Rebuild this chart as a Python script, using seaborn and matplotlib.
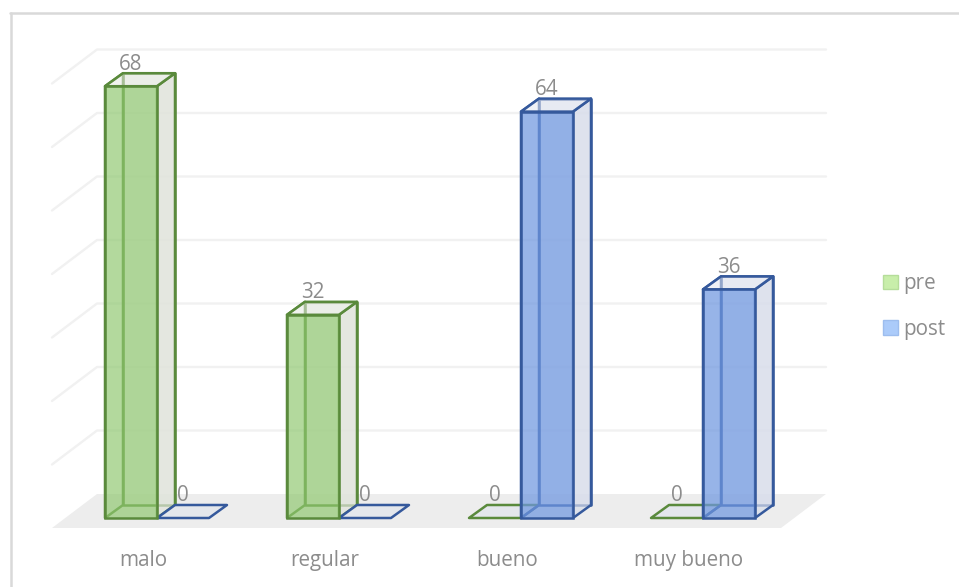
import matplotlib
matplotlib.use("Agg")
import matplotlib.pyplot as plt
import matplotlib.transforms as mtrans
from matplotlib.colors import to_rgba
from matplotlib.lines import Line2D
from matplotlib.patches import Patch, Polygon, Rectangle
import pandas as pd
import seaborn as sns

categorias = ["malo", "regular", "bueno", "muy bueno"]
pre = [68, 32, 0, 0]
post = [0, 0, 64, 36]
series = ["pre", "post"]
grid_values = [10, 20, 30, 40, 50, 60, 70]

W, H = 959, 587
PX_X0, PX_Y0 = 157.0, 518.0     # pixel of category 0 centre and of value 0
PX_PER_CAT, PX_PER_VAL = 182.0, 6.35
AX_L, AX_R, AX_T, AX_B = 52.0, 826.0, 50.0, 528.0

# depth of the box projection, in axis units
WALL_DX, WALL_DY = 45 / PX_PER_CAT, 34 / PX_PER_VAL
BOX_DX, BOX_DY = 18 / PX_PER_CAT, 13 / PX_PER_VAL
FLOOR_Y = (PX_Y0 - AX_B) / PX_PER_VAL

GREY = "#8c8c8c"
GRID = "#f1f1f1"
EDGE_W = 1.8
FONT = 14.9
STYLE = {
    "pre": dict(front=to_rgba("#8fc86f", 0.68), edge="#5a8a3c",
                side=to_rgba("#dfe3da", 0.7), top=to_rgba("#e7eae3", 0.55),
                swatch="#c8eeaa", swatch_edge="#b5dd9a"),
    "post": dict(front=to_rgba("#6f97e0", 0.72), edge="#35599c",
                 side=to_rgba("#d7dcea", 0.7), top=to_rgba("#e2e6f0", 0.55),
                 swatch="#abcbfa", swatch_edge="#9dbdee"),
}

sns.set_style("white")
plt.rcParams["font.family"] = ["Open Sans", "DejaVu Sans"]

fig = plt.figure(figsize=(W / 100, H / 100), dpi=100, facecolor="white")
ax = fig.add_axes([AX_L / W, 1 - AX_B / H, (AX_R - AX_L) / W, (AX_B - AX_T) / H])
ax.patch.set_alpha(0)
for spine in ax.spines.values():
    spine.set_visible(False)

df = pd.DataFrame({
    "categoria": categorias * 2,
    "serie": ["pre"] * len(pre) + ["post"] * len(post),
    "valor": pre + post,
})
sns.barplot(data=df, x="categoria", y="valor", hue="serie", hue_order=series,
            order=categorias, width=104 / PX_PER_CAT, gap=0, saturation=1,
            palette={s: STYLE[s]["front"][:3] for s in series},
            legend=False, ax=ax, zorder=5)

ax.set_xlim((AX_L - PX_X0) / PX_PER_CAT, (AX_R - PX_X0) / PX_PER_CAT)
ax.set_ylim(FLOOR_Y, (PX_Y0 - AX_T) / PX_PER_VAL)
ax.set_xlabel("")
ax.set_ylabel("")
ax.set_yticks([])

x0, x1 = ax.get_xlim()
back_y = FLOOR_Y + WALL_DY

# floor plane
ax.add_patch(Polygon([(x0, FLOOR_Y), (x0 + WALL_DX, back_y), (x1, back_y),
                      (x1 - WALL_DX, FLOOR_Y)], closed=True, fc="#ededed",
                     ec="none", zorder=1))
# back wall and left wall gridlines
for v in grid_values:
    ax.plot([x0, x0 + WALL_DX, x1], [FLOOR_Y + v, back_y + v, back_y + v],
            color=GRID, lw=1.7, zorder=1, clip_on=False, solid_joinstyle="round")

# each bar becomes a translucent box built from its own rectangle
for container, serie in zip(ax.containers, series):
    st = STYLE[serie]
    for bar in container:
        x, w, h = bar.get_x(), bar.get_width(), bar.get_height()
        line = dict(ec=st["edge"], lw=EDGE_W, joinstyle="round", clip_on=False)
        dx, dy = BOX_DX, BOX_DY
        if h > 0:
            ax.add_patch(Rectangle((x + dx, dy), w, h, fc=st["top"], zorder=3, **line))
            ax.add_patch(Polygon([(x + w, 0), (x + w + dx, dy), (x + w + dx, h + dy),
                                  (x + w, h)], closed=True, fc=st["side"], zorder=4, **line))
            ax.add_patch(Polygon([(x, 0), (x + dx, dy), (x + dx, h + dy), (x, h)],
                                 closed=True, fc="none", zorder=4, **line))
        # top lid; for a zero value this is the flat tile on the floor
        ax.add_patch(Polygon([(x, h), (x + dx, h + dy), (x + w + dx, h + dy), (x + w, h)],
                             closed=True, fc=st["top"] if h > 0 else to_rgba("#e4e7ec", 0.9),
                             zorder=4, **line))
        if h > 0:
            bar.set_facecolor(st["front"])
            bar.set_edgecolor(st["edge"])
            bar.set_linewidth(EDGE_W)
            bar.set_clip_on(False)
            bar.set_zorder(5)
        else:
            bar.set_visible(False)
        # value label above the box
        ax.annotate(f"{h:.0f}", (x + w / 2, h + dy), xytext=(0, -1), textcoords="offset points",
                    ha="center", va="bottom", fontsize=FONT, color=GREY, zorder=7,
                    annotation_clip=False)

# category labels sit slightly left of the group centre
ax.set_xticks(range(len(categorias)))
ax.set_xticklabels(categorias, fontsize=FONT, color=GREY)
ax.tick_params(axis="x", length=0, pad=16)
shift = mtrans.ScaledTranslation(-14 / 100, 0, fig.dpi_scale_trans)
for lab in ax.get_xticklabels():
    lab.set_transform(lab.get_transform() + shift)

handles = [Patch(fc=STYLE[s]["swatch"], ec=STYLE[s]["swatch_edge"], lw=1) for s in series]
fig.legend(handles, series, loc="upper left", bbox_to_anchor=(880 / W, 1 - 270 / H),
           frameon=False, fontsize=FONT, labelcolor=GREY, handlelength=0.7, handleheight=0.7,
           handletextpad=0.28, labelspacing=1.2, borderpad=0.15, borderaxespad=0)

# chart frame, open at the right and bottom
frame_c = "#d9d9d9"
fig.add_artist(Line2D([11 / W, 11 / W], [0, 1 - 13 / H], color=frame_c, lw=1.8))
fig.add_artist(Line2D([10 / W, 1], [1 - 13 / H, 1 - 13 / H], color=frame_c, lw=1.8))

fig.savefig("out.png", dpi=100)
